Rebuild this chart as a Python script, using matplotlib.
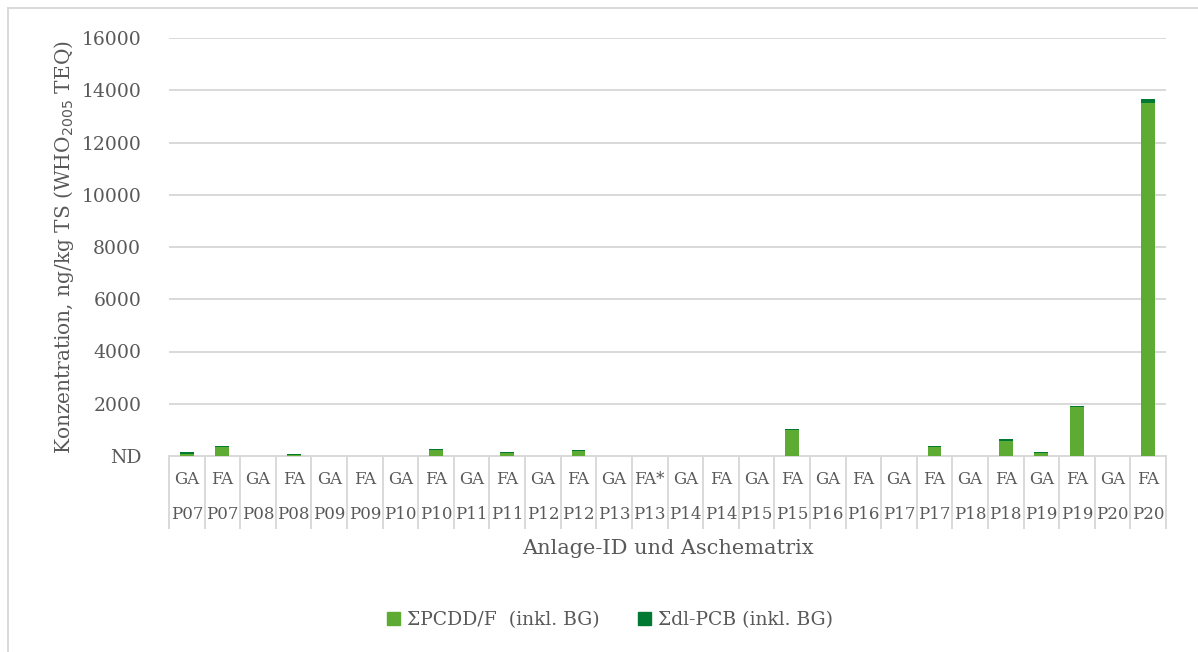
import matplotlib
matplotlib.use("Agg")
import matplotlib.pyplot as plt
import matplotlib.transforms as mtransforms
from matplotlib.lines import Line2D
from matplotlib.patches import Patch

plants = ["P07", "P07", "P08", "P08", "P09", "P09", "P10", "P10", "P11", "P11",
          "P12", "P12", "P13", "P13", "P14", "P14", "P15", "P15", "P16", "P16",
          "P17", "P17", "P18", "P18", "P19", "P19", "P20", "P20"]
matrix = ["GA", "FA", "GA", "FA", "GA", "FA", "GA", "FA", "GA", "FA",
          "GA", "FA", "GA", "FA*", "GA", "FA", "GA", "FA", "GA", "FA",
          "GA", "FA", "GA", "FA", "GA", "FA", "GA", "FA"]
pcdd_f = [80, 340, 0, 40, 0, 0, 0, 218, 0, 100,
          0, 190, 0, 0, 0, 0, 0, 980, 0, 0,
          0, 345, 0, 590, 100, 1865, 0, 13530]
dl_pcb = [60, 55, 0, 48, 0, 0, 0, 50, 0, 50,
          0, 50, 0, 0, 0, 0, 0, 50, 0, 0,
          0, 50, 0, 50, 50, 50, 0, 150]
yticks = [0, 2000, 4000, 6000, 8000, 10000, 12000, 14000, 16000]
ytick_labels = ["ND", "2000", "4000", "6000", "8000", "10000", "12000", "14000", "16000"]

c_pcdd = "#5dab32"
c_pcb = "#007a33"
grey_txt = "#595959"
grid_c = "#d9d9d9"

plt.rcParams["font.family"] = ["DejaVu Serif"]

W, H = 1198, 652
fig = plt.figure(figsize=(W / 100, H / 100), dpi=100)
ax = fig.add_axes([169 / W, 1 - 456 / H, 997 / W, 418 / H])

x = list(range(len(plants)))
ax.bar(x, pcdd_f, width=0.39, color=c_pcdd, zorder=3)
ax.bar(x, dl_pcb, width=0.39, bottom=pcdd_f, color=c_pcb, zorder=3)

ax.set_xlim(-0.5, len(plants) - 0.5)
ax.set_ylim(0, 16000)
ax.set_yticks(yticks)
ax.set_yticklabels(ytick_labels, fontsize=13.5, color=grey_txt)
ax.tick_params(axis="y", length=0, pad=20)
ax.set_xticks([])
ax.grid(axis="y", color=grid_c, lw=1.4, zorder=0)
for s in ["top", "right", "left"]:
    ax.spines[s].set_visible(False)
ax.spines["bottom"].set_color(grid_c)
ax.spines["bottom"].set_linewidth(1.4)

trans = mtransforms.blended_transform_factory(ax.transData, ax.transAxes)
for i in range(len(plants) + 1):
    ax.plot([i - 0.5, i - 0.5], [0, -0.172], transform=trans, color=grid_c,
            lw=1.4, clip_on=False, zorder=1)
for i in range(len(plants)):
    ax.text(i, -0.057, matrix[i], transform=trans, ha="center", va="center",
            fontsize=12, color=grey_txt)
    ax.text(i, -0.141, plants[i], transform=trans, ha="center", va="center",
            fontsize=12, color=grey_txt)

ax.set_ylabel("Konzentration, ng/kg TS (WHO$_{2005}$ TEQ)", fontsize=14.5,
              color=grey_txt, labelpad=4)
ax.text(0.5, -0.222, "Anlage-ID und Aschematrix", transform=ax.transAxes,
        ha="center", va="center", fontsize=15, color=grey_txt)

handles = [Patch(color=c_pcdd, label="ΣPCDD/F  (inkl. BG)"),
           Patch(color=c_pcb, label="Σdl-PCB (inkl. BG)")]
fig.legend(handles=handles, loc="center", bbox_to_anchor=(610 / W, 1 - 620 / H),
           ncol=2, frameon=False, fontsize=13.5, labelcolor=grey_txt,
           handlelength=0.7, handleheight=0.7, handletextpad=0.4, columnspacing=2.0)

# outer frame (top and left edges visible)
fig.add_artist(Line2D([8 / W, 1.0], [1 - 8 / H, 1 - 8 / H], transform=fig.transFigure,
                      color=grid_c, lw=1.4))
fig.add_artist(Line2D([8 / W, 8 / W], [0, 1 - 8 / H], transform=fig.transFigure,
                      color=grid_c, lw=1.4))

fig.savefig("out.png", dpi=100, facecolor="white")
